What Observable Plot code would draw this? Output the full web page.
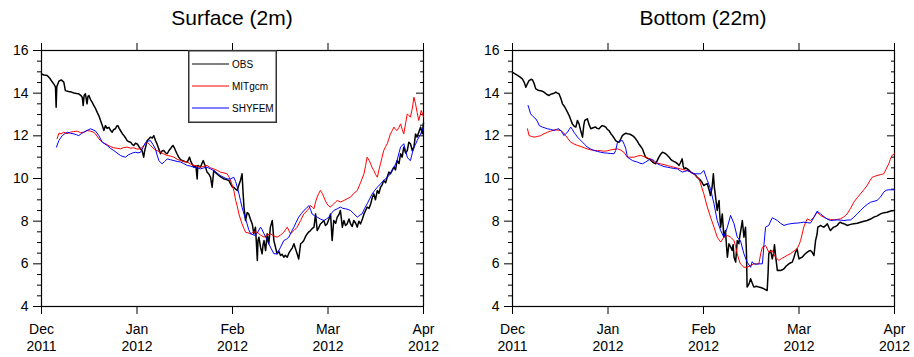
<!DOCTYPE html>
<html><head><meta charset="utf-8">
<script src="https://cdn.jsdelivr.net/npm/d3@7"></script>
<script src="https://cdn.jsdelivr.net/npm/@observablehq/plot@0.6"></script>
<style>
body{margin:0;background:#fff;font-family:"Liberation Sans",Arial,Helvetica,sans-serif;}
#wrap{position:relative;width:914px;height:357px;overflow:hidden;background:#fff}
.panel{position:absolute;top:0;width:457px;height:357px}
.title{height:36px;font-size:21px;line-height:36px;text-align:center;color:#000;box-sizing:border-box}
.legend{position:absolute}
</style></head><body><div id="wrap"></div>
<script>
// x is days since 1 Dec 2011 (axis ticks equally spaced, 30 days apart)
const xTicks = [0, 30, 60, 90, 120];
const xTickLabels = ["Dec\n2011", "Jan\n2012", "Feb\n2012", "Mar\n2012", "Apr\n2012"];
const yMajor = [4, 6, 8, 10, 12, 14, 16];
const yMinor = [4.5, 5, 5.5, 6.5, 7, 7.5, 8.5, 9, 9.5, 10.5, 11, 11.5, 12.5, 13, 13.5, 14.5, 15, 15.5];
const seriesNames = ["OBS", "MITgcm", "SHYFEM"];
const seriesColors = ["#000000", "#ff0000", "#0000ff"];
const panelTitles = ["Surface (2m)", "Bottom (22m)"];

const surfOBS = [[0,14.9],[0.8,14.85],[1.8,14.83],[2.6,14.7],[3.4,14.52],[4.0,14.4],[4.4,14.28],[4.6,13.34],[4.8,14.3],[5.45,14.56],[6.2,14.62],[7.0,14.52],[7.5,14.12],[8.5,14.08],[9.4,14.05],[10.2,14.01],[11.0,13.98],[11.7,13.97],[12.3,13.9],[12.8,13.81],[13.1,13.42],[13.4,13.9],[13.8,13.97],[14.3,13.5],[14.6,13.85],[14.9,13.89],[15.4,13.7],[15.9,13.58],[16.5,13.4],[17.0,13.27],[17.5,13.1],[18.0,12.95],[18.6,12.7],[19.1,12.48],[19.6,12.25],[20.1,12.48],[20.6,12.35],[21.2,12.4],[21.7,12.25],[22.2,12.17],[22.7,12.3],[23.2,12.33],[23.6,12.45],[24.0,12.48],[24.4,12.35],[24.8,12.25],[25.4,12.1],[25.9,12.01],[26.4,11.9],[26.9,11.78],[27.5,11.72],[28.0,11.7],[28.5,11.6],[29.0,11.55],[29.5,11.65],[30.1,11.62],[30.6,11.5],[31.1,11.39],[31.6,11.3],[32.1,11.0],[32.4,11.3],[32.7,11.47],[33.2,11.78],[33.7,11.85],[34.2,11.94],[34.8,11.9],[35.3,12.01],[35.8,11.78],[36.3,11.62],[36.8,11.4],[37.4,11.16],[37.9,11.3],[38.4,11.31],[39.0,11.2],[39.5,11.16],[40.0,11.3],[40.5,11.39],[41.0,11.5],[41.3,11.55],[41.7,11.45],[42.1,11.31],[42.6,11.15],[43.1,11.0],[43.6,10.9],[44.2,10.84],[45.0,10.8],[45.8,10.77],[46.2,10.9],[46.5,11.0],[46.9,10.8],[47.3,10.69],[47.9,10.53],[48.5,10.6],[48.9,9.98],[49.1,10.61],[49.9,10.53],[50.4,10.7],[50.8,10.84],[51.4,10.6],[52.0,10.3],[52.6,10.2],[53.1,10.06],[53.6,9.59],[54.1,10.37],[54.9,10.25],[55.7,10.14],[56.5,10.05],[57.3,9.98],[58.1,9.95],[58.9,9.9],[59.4,9.75],[60.0,9.6],[60.4,9.59],[61.0,9.5],[61.5,9.44],[62.0,9.7],[62.5,9.91],[63.0,10.22],[63.3,9.4],[63.6,8.66],[64.1,8.03],[64.6,8.4],[65.1,8.34],[65.6,8.1],[66.2,7.87],[66.7,7.41],[67.2,7.72],[67.5,7.0],[67.8,6.16],[68.0,7.1],[68.3,7.25],[68.8,6.78],[69.3,6.47],[69.6,6.9],[69.9,7.09],[70.4,6.62],[70.9,7.41],[71.4,6.94],[71.9,7.72],[72.5,8.03],[73.0,7.09],[73.5,6.78],[74.0,6.47],[74.5,6.6],[75.1,6.39],[75.6,6.45],[76.1,6.31],[76.6,6.4],[77.2,6.31],[77.7,6.5],[78.2,6.62],[78.8,6.75],[79.3,6.94],[79.8,6.7],[80.3,6.47],[80.8,6.23],[81.4,6.94],[81.9,7.0],[82.4,7.09],[83.0,7.3],[83.5,7.41],[84.0,7.5],[84.5,7.56],[85.0,7.65],[85.6,7.72],[86.1,8.34],[86.6,7.56],[87.1,7.7],[87.6,7.87],[88.2,7.95],[88.7,8.03],[89.2,7.8],[89.7,7.87],[90.3,8.1],[90.8,8.34],[91.3,7.09],[91.8,8.03],[92.4,7.9],[92.9,8.19],[93.4,8.3],[93.9,8.5],[94.5,7.72],[95.0,8.03],[95.5,7.8],[96.0,7.87],[96.6,8.1],[97.1,7.87],[97.6,7.75],[98.1,8.03],[98.7,7.9],[99.2,7.72],[99.7,8.0],[100.2,7.87],[100.8,8.1],[101.3,8.34],[101.8,8.5],[102.3,8.66],[102.9,8.6],[103.4,8.81],[103.9,9.1],[104.4,9.28],[104.9,9.0],[105.5,9.44],[106.0,9.3],[106.5,9.59],[107.0,9.7],[107.5,9.91],[108.1,9.8],[108.6,10.06],[109.1,10.3],[109.6,10.22],[110.2,10.4],[110.7,10.53],[111.2,10.4],[111.7,10.84],[112.3,10.7],[112.8,11.16],[113.3,11.0],[113.8,11.47],[114.4,11.2],[114.9,11.31],[115.4,11.7],[115.9,11.63],[116.5,11.3],[117.0,11.47],[117.5,12.09],[118.0,11.94],[118.6,12.2],[119.1,12.41],[119.6,12.1],[120.0,12.6]];

const surfMIT = [[4.9,11.86],[5.45,12.12],[6.2,12.1],[7.0,12.17],[8.0,12.1],[9.1,12.17],[10.1,12.2],[11.2,12.22],[12.2,12.15],[13.3,12.17],[14.3,12.25],[15.4,12.22],[16.2,12.18],[17.0,12.09],[18.0,11.86],[19.1,11.7],[20.6,11.59],[21.6,11.5],[22.7,11.44],[23.7,11.42],[24.8,11.39],[25.8,11.45],[26.9,11.47],[28.0,11.42],[29.0,11.44],[30.0,11.38],[31.1,11.39],[32.2,11.55],[33.2,11.7],[34.2,11.55],[35.3,11.39],[36.3,11.3],[37.4,11.23],[38.4,11.15],[39.5,11.08],[40.5,11.05],[41.6,11.0],[42.6,10.9],[43.7,10.84],[44.7,10.8],[45.8,10.77],[46.8,10.68],[47.9,10.61],[48.9,10.58],[49.9,10.53],[51.0,10.57],[52.0,10.61],[53.1,10.5],[54.1,10.45],[55.2,10.38],[56.2,10.3],[57.3,10.26],[58.3,10.22],[59.0,10.05],[59.9,9.7],[60.4,9.45],[61.0,8.97],[61.5,8.7],[62.0,8.34],[62.5,8.1],[63.0,7.87],[63.6,7.65],[64.1,7.48],[64.9,7.45],[65.7,7.41],[66.7,7.5],[67.8,7.48],[68.8,7.35],[69.9,7.25],[70.9,7.35],[71.9,7.41],[73.0,7.3],[74.0,7.25],[75.1,7.35],[76.1,7.48],[77.2,7.72],[78.2,7.41],[79.3,7.56],[80.3,7.72],[81.4,8.03],[82.4,8.34],[83.5,8.5],[84.0,8.6],[84.5,8.73],[85.1,8.65],[85.6,8.58],[86.1,8.9],[86.6,9.13],[87.1,9.3],[87.6,9.44],[88.2,9.3],[88.7,9.13],[89.2,8.95],[89.7,8.81],[90.3,8.7],[90.8,8.66],[91.3,8.75],[91.8,8.81],[92.4,8.9],[92.9,8.97],[93.9,8.9],[95.0,8.97],[96.0,9.05],[97.1,9.13],[98.1,9.3],[99.2,9.44],[100.2,9.8],[101.3,10.22],[101.8,10.6],[102.3,11.0],[102.9,10.85],[103.4,10.69],[103.9,10.5],[104.4,10.38],[104.9,10.2],[105.5,10.06],[106.0,10.4],[106.5,10.69],[107.0,11.0],[107.5,11.31],[108.1,11.5],[108.6,11.63],[109.1,11.85],[109.6,12.09],[110.2,12.25],[110.7,12.41],[111.2,12.3],[111.7,12.25],[112.3,12.4],[112.8,12.56],[113.3,12.3],[113.8,12.09],[114.4,12.6],[114.9,13.03],[115.4,12.95],[115.9,12.88],[116.5,13.3],[117.0,13.81],[117.5,13.5],[118.0,13.1],[118.5,12.72],[119.0,13.0],[119.3,13.19],[120.0,12.88]];

const surfSHY = [[4.7,11.47],[5.45,11.78],[6.0,11.9],[6.5,12.01],[7.3,12.1],[8.1,12.17],[9.1,12.12],[10.2,12.09],[11.0,12.05],[11.7,12.01],[12.5,12.1],[13.3,12.17],[14.3,12.25],[15.4,12.33],[16.2,12.28],[17.0,12.22],[18.0,12.01],[19.1,11.7],[20.6,11.55],[21.6,11.42],[22.7,11.31],[23.7,11.2],[24.8,11.08],[25.6,11.03],[26.4,11.0],[27.2,11.1],[28.0,11.16],[28.7,11.2],[29.5,11.23],[30.3,11.2],[31.1,11.23],[31.9,11.45],[32.7,11.7],[33.5,11.75],[34.2,11.78],[35.0,11.6],[35.8,11.39],[36.3,11.1],[36.9,10.84],[37.4,10.75],[37.9,10.69],[38.7,10.8],[39.5,10.92],[40.5,10.88],[41.6,10.84],[42.6,10.8],[43.7,10.77],[44.7,10.7],[45.8,10.61],[46.8,10.58],[47.9,10.53],[48.9,10.5],[49.9,10.45],[51.0,10.5],[52.0,10.53],[53.1,10.45],[54.1,10.37],[55.2,10.25],[56.2,10.14],[57.3,10.05],[58.3,9.98],[59.4,9.98],[60.4,10.06],[61.0,9.85],[61.5,9.59],[62.0,9.3],[62.5,8.97],[63.0,8.65],[63.6,8.34],[64.1,8.1],[64.6,7.87],[65.1,7.6],[65.7,7.41],[66.5,7.36],[67.2,7.33],[68.0,7.5],[68.8,7.72],[69.3,7.6],[69.9,7.41],[70.6,7.2],[71.4,6.94],[72.2,6.7],[73.0,6.47],[74.0,6.47],[75.1,6.78],[76.1,7.09],[76.9,7.15],[77.7,7.25],[78.5,7.5],[79.3,7.72],[80.0,7.95],[80.8,8.19],[81.6,8.35],[82.4,8.5],[83.2,8.6],[84.0,8.73],[84.5,8.55],[85.0,8.34],[85.8,8.25],[86.6,8.19],[87.6,8.1],[88.7,8.03],[89.5,8.1],[90.3,8.19],[91.0,8.35],[91.8,8.5],[92.9,8.58],[93.9,8.66],[94.7,8.6],[95.5,8.58],[96.3,8.55],[97.1,8.5],[98.1,8.35],[99.2,8.19],[100.0,8.28],[100.7,8.34],[101.5,8.6],[102.3,8.81],[103.1,9.05],[103.9,9.28],[104.7,9.45],[105.5,9.59],[106.5,9.75],[107.5,9.91],[108.6,10.05],[109.6,10.22],[110.7,10.5],[111.7,10.84],[112.3,11.2],[112.8,11.47],[113.8,11.63],[114.4,11.3],[114.9,11.0],[115.4,10.9],[115.9,10.84],[116.5,11.2],[117.0,11.47],[117.5,11.6],[118.0,11.78],[118.6,11.95],[119.1,12.09],[120.0,12.41]];

const botOBS = [[0,14.98],[0.8,14.9],[1.6,14.83],[2.4,14.75],[3.1,14.67],[3.7,14.5],[4.2,14.28],[4.7,14.45],[5.2,14.59],[5.8,14.65],[6.3,14.62],[6.8,14.45],[7.3,14.2],[7.9,14.15],[8.4,14.12],[9.2,14.1],[9.9,14.05],[10.7,13.95],[11.5,13.89],[12.0,13.95],[12.5,13.97],[13.1,14.0],[13.6,14.05],[14.1,14.0],[14.6,13.97],[15.2,13.75],[15.7,13.5],[16.2,13.4],[16.7,13.27],[17.3,13.1],[17.8,12.95],[18.3,12.75],[18.8,12.56],[19.4,12.45],[19.9,12.41],[20.4,12.72],[20.9,12.56],[21.5,12.2],[22.0,11.94],[22.4,12.5],[22.7,12.72],[23.5,12.8],[24.0,12.55],[24.6,12.33],[25.3,12.38],[26.1,12.41],[26.6,12.35],[27.2,12.33],[27.7,12.42],[28.2,12.48],[28.8,12.45],[29.3,12.41],[29.8,12.3],[30.3,12.25],[30.9,12.1],[31.4,12.01],[31.9,11.9],[32.4,11.78],[33.0,11.72],[33.5,11.7],[34.0,11.85],[34.5,12.01],[35.1,12.08],[35.6,12.12],[36.1,12.1],[36.6,12.09],[37.2,12.05],[37.7,12.01],[38.2,11.95],[38.7,11.86],[39.2,11.75],[39.7,11.62],[40.3,11.5],[40.8,11.39],[41.3,11.2],[41.8,11.0],[42.4,10.95],[42.9,10.92],[43.5,10.85],[44.0,10.77],[44.5,10.72],[45.0,10.69],[45.5,10.85],[46.0,11.0],[46.6,11.15],[47.1,11.23],[47.6,11.2],[48.1,11.16],[48.7,11.08],[49.2,11.0],[49.7,10.9],[50.2,10.84],[50.7,10.8],[51.2,10.77],[51.8,10.7],[52.3,10.61],[52.8,10.75],[53.3,10.92],[53.6,10.6],[53.9,10.45],[54.4,10.5],[54.9,10.45],[55.5,10.38],[56.0,10.3],[56.5,10.25],[57.0,10.22],[57.5,10.15],[58.0,10.06],[58.6,9.98],[59.1,9.91],[59.6,9.8],[60.1,9.67],[60.6,9.72],[61.2,9.75],[61.7,9.5],[62.2,9.2],[62.7,9.6],[63.1,10.22],[63.4,9.6],[63.8,9.13],[64.3,8.5],[64.6,8.8],[64.9,8.97],[65.1,8.3],[65.4,7.72],[65.9,8.34],[66.4,7.25],[66.9,7.56],[67.2,6.9],[67.5,6.31],[68.0,6.94],[68.5,6.8],[69.0,6.63],[69.3,6.9],[69.6,6.31],[70.1,6.08],[70.6,7.09],[71.1,6.94],[71.4,7.3],[71.7,7.56],[72.2,8.03],[72.7,7.25],[73.2,7.72],[73.5,6.5],[73.7,4.91],[74.3,5.06],[74.8,5.3],[75.3,5.1],[75.8,4.91],[76.6,4.95],[77.4,4.91],[78.2,4.88],[79.0,4.83],[80.0,4.75],[80.3,5.6],[80.5,6.47],[81.1,6.63],[81.6,6.23],[82.0,6.5],[82.3,6.9],[82.7,6.3],[83.2,5.69],[83.7,5.7],[84.2,5.69],[84.8,5.72],[85.3,5.77],[86.0,5.9],[86.8,6.0],[87.4,6.05],[87.9,6.08],[88.4,6.3],[88.9,6.55],[89.4,6.7],[89.7,6.45],[90.0,6.23],[90.5,6.28],[91.0,6.31],[91.8,6.45],[92.6,6.55],[93.1,6.6],[93.6,6.63],[94.1,6.55],[94.7,6.39],[95.2,7.09],[95.7,7.41],[95.9,7.72],[96.3,7.75],[96.8,7.8],[97.3,7.75],[97.8,7.72],[98.4,7.8],[98.9,7.88],[99.4,7.7],[99.9,7.56],[100.4,7.65],[100.9,7.72],[101.5,7.75],[102.0,7.8],[102.5,7.9],[103.0,7.95],[103.6,7.9],[104.1,7.88],[104.6,7.85],[105.1,7.8],[106.2,7.85],[107.2,7.88],[108.3,7.9],[109.3,7.95],[110.4,8.0],[111.4,8.03],[112.5,8.1],[113.5,8.19],[114.6,8.25],[115.6,8.34],[116.7,8.4],[117.7,8.42],[118.8,8.48],[119.8,8.5],[120,8.52]];

const botMIT = [[4.7,12.33],[5.2,12.01],[6.0,11.97],[6.8,11.94],[7.8,11.97],[8.9,12.01],[9.9,12.1],[11.0,12.17],[12.0,12.22],[13.1,12.28],[14.1,12.27],[15.2,12.25],[16.0,12.15],[16.7,12.01],[17.5,11.85],[18.3,11.7],[19.3,11.62],[20.4,11.55],[21.5,11.5],[22.5,11.44],[23.6,11.38],[24.6,11.34],[25.6,11.32],[26.7,11.31],[27.7,11.3],[28.8,11.28],[29.8,11.3],[30.9,11.34],[31.9,11.37],[33.0,11.39],[34.0,11.33],[35.0,11.23],[35.6,11.1],[36.1,11.0],[37.2,11.0],[38.2,11.0],[39.2,11.05],[40.3,11.08],[41.3,11.03],[42.4,10.97],[43.4,10.88],[44.5,10.77],[45.5,10.72],[46.5,10.69],[47.6,10.65],[48.6,10.61],[49.6,10.57],[50.7,10.53],[51.7,10.49],[52.8,10.45],[53.8,10.41],[54.9,10.37],[56.0,10.3],[57.0,10.22],[57.8,10.1],[58.6,9.98],[59.1,9.75],[60.1,9.28],[61.2,8.66],[62.2,8.19],[63.3,7.72],[64.3,7.25],[65.4,7.02],[66.4,7.25],[67.5,7.33],[68.5,7.25],[69.6,7.09],[70.1,6.8],[70.6,6.47],[71.1,6.2],[71.6,6.0],[72.7,5.84],[73.7,5.84],[74.8,5.92],[75.8,6.0],[76.6,6.0],[77.4,6.0],[78.0,6.5],[78.5,6.78],[79.5,6.86],[80.5,6.55],[81.6,6.63],[82.6,6.31],[83.7,6.16],[84.5,6.25],[85.3,6.31],[86.3,6.4],[87.3,6.47],[88.4,6.6],[89.4,6.7],[90.0,6.9],[90.5,7.09],[91.0,7.4],[91.5,7.72],[92.1,7.95],[92.6,8.11],[93.6,8.03],[94.7,8.19],[95.7,8.42],[96.8,8.27],[97.8,8.18],[98.9,8.11],[99.9,8.08],[100.9,8.06],[102.0,8.08],[103.0,8.11],[104.1,8.2],[105.1,8.34],[106.2,8.6],[107.2,8.89],[108.3,9.1],[109.3,9.28],[110.4,9.48],[111.4,9.67],[112.2,9.88],[113.0,10.06],[113.8,10.1],[114.5,10.14],[115.6,10.18],[116.6,10.22],[117.4,10.45],[118.2,10.69],[118.7,10.9],[119.2,11.08],[120.0,11.16]];

const botSHY = [[4.9,13.42],[5.7,13.03],[6.5,12.9],[7.3,12.8],[7.9,12.65],[8.4,12.48],[9.4,12.41],[10.2,12.37],[11.0,12.33],[12.0,12.3],[13.1,12.25],[13.8,12.3],[14.6,12.33],[15.4,12.2],[16.2,12.01],[16.7,12.1],[17.3,12.17],[17.8,12.3],[18.3,12.41],[18.8,12.3],[19.3,12.17],[19.9,12.05],[20.4,11.94],[21.2,11.82],[22.0,11.7],[22.8,11.58],[23.5,11.47],[24.6,11.38],[25.6,11.31],[26.7,11.27],[27.7,11.23],[28.8,11.2],[29.8,11.19],[30.9,11.17],[31.9,11.16],[32.4,11.31],[33.0,11.7],[33.7,11.75],[34.5,11.78],[35.1,11.6],[35.6,11.39],[36.1,11.0],[36.9,10.92],[37.7,10.84],[38.5,10.8],[39.2,10.77],[40.0,10.72],[40.8,10.69],[41.8,10.77],[42.6,10.85],[43.4,10.92],[44.5,10.84],[45.5,10.69],[46.5,10.62],[47.6,10.56],[48.6,10.53],[49.7,10.5],[50.7,10.47],[51.8,10.45],[52.5,10.38],[53.3,10.3],[54.1,10.33],[54.9,10.37],[56.0,10.3],[57.0,10.22],[58.0,10.22],[59.1,10.22],[60.1,10.38],[61.2,9.91],[62.2,9.52],[63.3,8.81],[64.3,8.03],[65.4,7.56],[66.4,7.25],[67.5,7.72],[68.5,8.27],[69.6,7.88],[70.6,7.25],[71.6,7.09],[72.7,6.47],[73.7,6.08],[74.8,5.84],[75.3,6.1],[75.8,6.0],[76.6,5.98],[77.4,6.0],[78.5,6.0],[79.0,6.9],[79.5,7.72],[80.5,7.8],[81.6,8.16],[82.4,8.1],[83.2,8.03],[84.2,7.9],[85.3,7.8],[86.3,7.85],[87.3,7.88],[88.4,7.9],[89.4,7.91],[90.5,7.93],[91.5,7.95],[92.6,7.93],[93.6,7.91],[94.2,8.05],[94.7,8.19],[95.7,8.47],[96.8,8.34],[97.5,8.25],[98.3,8.16],[99.1,8.08],[99.9,8.03],[101.0,8.05],[102.0,8.06],[103.0,8.05],[104.1,8.03],[105.1,8.05],[106.2,8.06],[107.2,8.18],[108.3,8.34],[109.3,8.5],[110.4,8.66],[111.4,8.78],[112.5,8.89],[113.5,8.93],[114.5,8.97],[115.6,9.13],[116.6,9.36],[117.4,9.45],[118.2,9.47],[119.2,9.47],[120.0,9.47]];

const panels = [
  {title: panelTitles[0], series: [surfOBS, surfMIT, surfSHY], left: 0, ml: 41, mr: 34, legend: true},
  {title: panelTitles[1], series: [botOBS, botMIT, botSHY], left: 457, ml: 55, mr: 20, legend: false}
];

const FONT = "'Liberation Sans', Arial, Helvetica, sans-serif";
const wrap = document.getElementById("wrap");
const W = 457, H = 321, MT = 14, MB = 51;

for (const p of panels) {
  const div = document.createElement("div");
  div.className = "panel";
  div.style.left = p.left + "px";
  const t = document.createElement("div");
  t.className = "title";
  t.style.paddingLeft = p.ml + "px";
  t.style.paddingRight = p.mr + "px";
  t.textContent = p.title;
  div.appendChild(t);

  const noText = () => "";
  const chart = Plot.plot({
    width: W, height: H,
    marginLeft: p.ml, marginRight: p.mr, marginTop: MT, marginBottom: MB,
    x: {domain: [0, 120]},
    y: {domain: [4, 16]},
    style: {fontFamily: FONT, fontSize: "14px", color: "#000", background: "transparent", overflow: "visible"},
    marks: [
      Plot.axisY(yMinor, {anchor: "left", tickSize: 4, tickFormat: noText, label: null}),
      Plot.axisY(yMajor, {anchor: "left", tickSize: 8, tickPadding: 5, tickFormat: d => String(d), label: null, fontSize: 14}),
      Plot.axisY(yMinor, {anchor: "right", tickSize: -4, tickFormat: noText, label: null}),
      Plot.axisY(yMajor, {anchor: "right", tickSize: -8, tickFormat: noText, label: null}),
      Plot.axisX(xTicks, {anchor: "bottom", tickSize: 8, tickPadding: 8, lineHeight: 1.2, fontSize: 14,
        tickFormat: d => xTickLabels[xTicks.indexOf(d)], label: null}),
      Plot.axisX(xTicks, {anchor: "top", tickSize: 8, tickFormat: noText, label: null}),
      Plot.frame({stroke: "#000", strokeWidth: 1.2}),
      Plot.line(p.series[0], {x: d => d[0], y: d => d[1], stroke: seriesColors[0], strokeWidth: 1.5}),
      Plot.line(p.series[1], {x: d => d[0], y: d => d[1], stroke: seriesColors[1], strokeWidth: 1}),
      Plot.line(p.series[2], {x: d => d[0], y: d => d[1], stroke: seriesColors[2], strokeWidth: 1})
    ]
  });
  div.appendChild(chart);
  wrap.appendChild(div);

  if (p.legend) {
    const lg = d3.create("svg").attr("class", "legend").attr("width", 90).attr("height", 74)
      .style("left", "188px").style("top", "50px").style("position", "absolute");
    lg.append("rect").attr("x", 0.75).attr("y", 0.75).attr("width", 87.5).attr("height", 71.5)
      .attr("fill", "#fff").attr("stroke", "#333").attr("stroke-width", 1.5);
    seriesNames.forEach((name, i) => {
      const y = 14 + i * 22;
      lg.append("line").attr("x1", 4).attr("x2", 41).attr("y1", y).attr("y2", y)
        .attr("stroke", seriesColors[i]).attr("stroke-width", 1);
      lg.append("text").attr("x", 44).attr("y", y).attr("dy", "0.35em")
        .attr("font-family", FONT).attr("font-size", 10).attr("fill", "#000").text(name);
    });
    div.appendChild(lg.node());
  }
}
</script></body></html>
